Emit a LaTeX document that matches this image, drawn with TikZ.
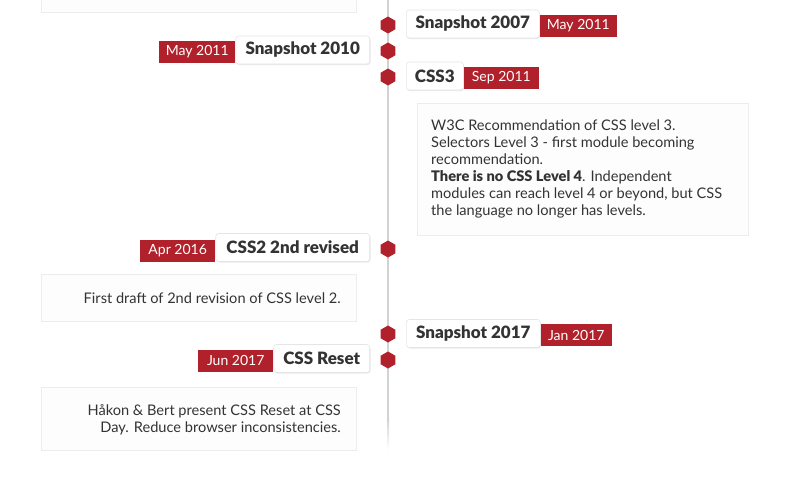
\documentclass[tikz,border=0pt]{standalone}
\usepackage{fontspec}
\setmainfont{Lato}
\newfontfamily\heavyfont{Lato Black}
\usetikzlibrary{shapes.geometric,shadows}
\definecolor{tlred}{HTML}{B1212B}
\definecolor{ink}{HTML}{333333}
\definecolor{axis}{HTML}{D2D2D2}
\definecolor{cardline}{HTML}{ECECEC}
\definecolor{cardfill}{HTML}{FDFDFD}
\tikzset{
  title/.style={draw=black!10, line width=0.6pt, fill=white, rounded corners=3pt, text=ink,
    font=\heavyfont\fontsize{17}{20}\selectfont, minimum height=28pt,
    inner xsep=0pt, inner ysep=0pt,
    drop shadow={opacity=0.16, shadow xshift=0.8pt, shadow yshift=-1.2pt}},
  datebox/.style={fill=tlred, text=white, font=\fontsize{14}{16}\selectfont,
    minimum height=22pt, inner sep=0pt},
  marker/.style={regular polygon, regular polygon sides=6, shape border rotate=30,
    fill=tlred, minimum size=17pt, inner sep=0pt},
  card/.style={draw=cardline, fill=cardfill, line width=0.8pt},
  cardtext/.style={text=ink, font=\fontsize{14.6}{17}\selectfont, inner sep=0pt}
}
\begin{document}
\begin{tikzpicture}[x=1pt,y=-1pt]
\useasboundingbox[fill=white] (0,0) rectangle (788,479);

% cards holding the event descriptions
\draw[card] (41,-5) rectangle (356,12);
\draw[card] (417,103) rectangle (748,235);
\draw[card] (41,274) rectangle (356,321);
\draw[card] (41,387) rectangle (356,450);

% the time axis
\coordinate (axistop) at (388,0);
\coordinate (axisfade) at (388,418);
\draw[axis, line width=2pt] (axistop) -- (axisfade);
\shade[top color=axis, bottom color=white] (387,418) rectangle (389,450);

% markers on the axis
\node[marker] (m1) at (388,25) {};
\node[marker] (m2) at (388,51) {};
\node[marker] (m3) at (388,77) {};
\node[marker] (m4) at (388,249) {};
\node[marker] (m5) at (388,334) {};
\node[marker] (m6) at (388,360) {};

% events to the right of the axis
\node[title, anchor=west, minimum width=133pt] (t1) at (406,24) {Snapshot 2007};
\node[datebox, anchor=west, minimum width=77pt] (d1) at ([yshift=-2pt]t1.east) {May 2011};

\node[title, anchor=west, minimum width=57pt] (t3) at (406,76) {CSS3};
\node[datebox, anchor=west, minimum width=75pt] (d3) at ([yshift=-1.5pt]t3.east) {Sep 2011};

\node[title, anchor=west, minimum width=134pt] (t5) at (406,333.5) {Snapshot 2017};
\node[datebox, anchor=west, minimum width=71pt] (d5) at ([yshift=-1.5pt]t5.east) {Jan 2017};

% events to the left of the axis
\node[title, anchor=east, minimum width=134pt] (t2) at (370,50) {Snapshot 2010};
\node[datebox, anchor=east, minimum width=76pt] (d2) at ([yshift=-2pt]t2.west) {May 2011};

\node[title, anchor=east, minimum width=154pt] (t4) at (370,247.5) {CSS2 2nd revised};
\node[datebox, anchor=east, minimum width=75pt] (d4) at ([yshift=-3pt]t4.west) {Apr 2016};

\node[title, anchor=east, minimum width=96pt] (t6) at (370,358.5) {CSS Reset};
\node[datebox, anchor=east, minimum width=75pt] (d6) at ([yshift=-2pt]t6.west) {Jun 2017};

% description texts
\node[cardtext, anchor=north west, align=left] (c3) at (431,120)
  {W3C Recommendation of CSS level 3.\\
   Selectors Level 3 - first module becoming\\
   recommendation.\\
   {\heavyfont There is no CSS Level 4}. Independent\\
   modules can reach level 4 or beyond, but CSS\\
   the language no longer has levels.};
\node[cardtext, anchor=east, align=right] (c4) at (341,298)
  {First draft of 2nd revision of CSS level 2.};
\node[cardtext, anchor=east, align=right] (c6) at (341,419.5)
  {Håkon \& Bert present CSS Reset at CSS\\
   Day. Reduce browser inconsistencies.};
\end{tikzpicture}
\end{document}
